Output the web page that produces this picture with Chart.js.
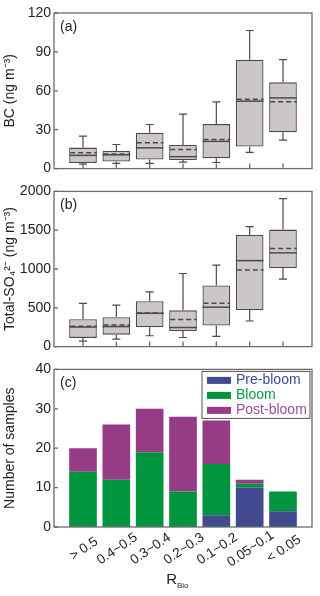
<!DOCTYPE html>
<html>
<head>
<meta charset="utf-8">
<script src="https://cdn.jsdelivr.net/npm/chart.js@4.4.1/dist/chart.umd.min.js"></script>
<style>
  html, body { margin: 0; padding: 0; background: #fff; }
  canvas { position: absolute; left: 0; }
</style>
</head>
<body>
<canvas id="bcChart" width="320" height="180" style="top:0"></canvas>
<canvas id="so4Chart" width="320" height="178" style="top:180px"></canvas>
<canvas id="countChart" width="320" height="238" style="top:358px"></canvas>
<script>
const categories = ['> 0.5', '0.4~0.5', '0.3~0.4', '0.2~0.3', '0.1~0.2', '0.05~0.1', '< 0.05'];

// (a) BC box stats, ng m-3
const bcMin = [3.5, 4, 4, 5, 4.7, 12.5, 22];
const bcQ1 = [4.3, 5.5, 7, 6.6, 8, 17, 28];
const bcMedian = [10.2, 10.6, 16, 9.2, 21, 52, 54.5];
const bcMean = [12.2, 11.3, 20, 14.7, 22.5, 53.5, 51.5];
const bcQ3 = [16.2, 13.6, 27.6, 18.2, 34.3, 84, 66.5];
const bcMax = [25, 18.6, 34, 42, 51.5, 106.5, 84];
const bcTicks = [0, 30, 60, 90, 120];

// (b) total SO4 box stats, ng m-3
const so4Min = [71, 96, 140, 117, 133, 330, 870];
const so4Q1 = [112, 154, 250, 200, 271, 471, 1012];
const so4Median = [252, 258, 429, 246, 508, 1108, 1208];
const so4Mean = [262, 279, 433, 348, 558, 988, 1265];
const so4Q3 = [354, 379, 585, 467, 788, 1438, 1508];
const so4Max = [556, 534, 706, 942, 1050, 1545, 1908];
const so4Ticks = [0, 500, 1000, 1500, 2000];

// (c) sample counts
const preBloom = [0, 0, 0, 0, 3, 10, 4];
const bloom = [14, 12, 19, 9, 13, 1, 5];
const postBloom = [6, 14, 11, 19, 11, 1, 0];
const countTicks = [0, 10, 20, 30, 40];

const FONT = '"Liberation Sans", Arial, sans-serif';
const TEXT = '#222';

// frame, inward ticks, panel letter
const framePlugin = {
  id: 'frame',
  afterDraw(chart, args, opts) {
    const { ctx, chartArea: a, scales } = chart;
    ctx.save();
    ctx.strokeStyle = '#6b6b6b';
    ctx.lineWidth = 1.3;
    ctx.strokeRect(a.left, a.top, a.right - a.left, a.bottom - a.top);
    ctx.beginPath();
    scales.y.ticks.forEach(t => {
      const py = scales.y.getPixelForValue(t.value);
      ctx.moveTo(a.left, py);
      ctx.lineTo(a.left + 4, py);
    });
    if (opts.xTicks) {
      categories.forEach((c, i) => {
        const px = scales.x.getPixelForValue(i);
        ctx.moveTo(px, a.bottom);
        ctx.lineTo(px, a.bottom - 5);
      });
    }
    ctx.stroke();
    ctx.fillStyle = TEXT;
    ctx.font = '14px ' + FONT;
    ctx.textBaseline = 'middle';
    ctx.fillText(opts.label, a.left + 6, a.top + 14);
    ctx.restore();
  }
};

// whiskers, median and mean on top of the floating bars
const boxPlugin = {
  id: 'boxes',
  afterDatasetsDraw(chart, args, opts) {
    if (!opts.min) return;
    const { ctx } = chart;
    const y = chart.scales.y;
    const meta = chart.getDatasetMeta(0);
    ctx.save();
    ctx.strokeStyle = '#4a4a4a';
    ctx.lineWidth = 1.2;
    meta.data.forEach((bar, i) => {
      const x = bar.x, half = bar.width / 2;
      const yq1 = y.getPixelForValue(opts.q1[i]);
      const yq3 = y.getPixelForValue(opts.q3[i]);
      const ylo = y.getPixelForValue(opts.min[i]);
      const yhi = y.getPixelForValue(opts.max[i]);
      ctx.setLineDash([]);
      ctx.beginPath();
      ctx.moveTo(x, yq3); ctx.lineTo(x, yhi);
      ctx.moveTo(x - 4, yhi); ctx.lineTo(x + 4, yhi);
      ctx.moveTo(x, yq1); ctx.lineTo(x, ylo);
      ctx.moveTo(x - 4, ylo); ctx.lineTo(x + 4, ylo);
      ctx.stroke();
      const ym = y.getPixelForValue(opts.median[i]);
      ctx.lineWidth = 1.5;
      ctx.beginPath();
      ctx.moveTo(x - half, ym); ctx.lineTo(x + half, ym);
      ctx.stroke();
      const ymean = y.getPixelForValue(opts.mean[i]);
      ctx.setLineDash([5, 3]);
      ctx.beginPath();
      ctx.moveTo(x - half + 1, ymean); ctx.lineTo(x + half, ymean);
      ctx.stroke();
      ctx.lineWidth = 1.2;
    });
    ctx.restore();
  }
};

// rotated category labels, R_Bio title and boxed legend for panel (c)
const countExtras = {
  id: 'countExtras',
  afterDraw(chart) {
    const { ctx, chartArea: a, scales } = chart;
    ctx.save();
    ctx.fillStyle = TEXT;
    ctx.font = '13.5px ' + FONT;
    ctx.textAlign = 'center';
    ctx.textBaseline = 'middle';
    categories.forEach((c, i) => {
      const px = scales.x.getPixelForValue(i);
      ctx.save();
      ctx.translate(px + 1, a.bottom + 22);
      ctx.rotate(-34 * Math.PI / 180);
      ctx.fillText(c, 0, 0);
      ctx.restore();
    });
    const cx = (a.left + a.right) / 2;
    ctx.font = '15px ' + FONT;
    ctx.textAlign = 'right';
    ctx.fillText('R', cx - 6, a.bottom + 53);
    ctx.font = '8px ' + FONT;
    ctx.textAlign = 'left';
    ctx.fillText('Bio', cx - 6, a.bottom + 59);

    const lx = a.right - 110, ly = a.top + 2;
    ctx.strokeStyle = '#555';
    ctx.lineWidth = 1;
    ctx.strokeRect(lx, ly, 108, 47);
    ctx.font = '14px ' + FONT;
    ctx.textAlign = 'left';
    chart.data.datasets.forEach((ds, k) => {
      const ry = ly + 9 + k * 15;
      ctx.fillStyle = ds.backgroundColor;
      ctx.fillRect(lx + 5, ry - 3.5, 24, 7);
      ctx.fillStyle = ds.textColor;
      ctx.fillText(ds.label, lx + 34, ry);
    });
    ctx.restore();
  }
};

function yAxis(min, max, ticks, title) {
  return {
    min: min,
    max: max,
    afterBuildTicks: s => { s.ticks = ticks.map(v => ({ value: v })); },
    afterFit: s => { s.width = 54; },
    grid: { display: false, drawTicks: false },
    border: { display: false },
    ticks: { color: TEXT, font: { family: FONT, size: 14 }, padding: 3, callback: v => String(v) },
    title: { display: true, text: title, color: TEXT, font: { family: FONT, size: 14 }, padding: { top: 2, bottom: 0 } }
  };
}

const xAxis = { type: 'linear', display: false, min: -0.87, max: 6.87, offset: false };

function boxChart(id, q1, q3, stats, ticks, max, title, label, padTop, padBottom) {
  new Chart(document.getElementById(id), {
    type: 'bar',
    data: {
      datasets: [{
        data: categories.map((c, i) => ({ x: i, y: [q1[i], q3[i]] })),
        backgroundColor: '#ccc6c6',
        borderColor: '#4a4a4a',
        borderWidth: 1.3,
        borderSkipped: false,
        categoryPercentage: 0.83,
        barPercentage: 1
      }]
    },
    options: {
      responsive: false,
      animation: false,
      layout: { padding: { top: padTop, bottom: padBottom, right: 8, left: 0 } },
      plugins: {
        legend: { display: false },
        tooltip: { enabled: false },
        frame: { label: label, xTicks: true },
        boxes: Object.assign({ q1: q1, q3: q3 }, stats)
      },
      scales: { x: xAxis, y: yAxis(0, max, ticks, title) }
    },
    plugins: [boxPlugin, framePlugin]
  });
}

boxChart('bcChart', bcQ1, bcQ3, { min: bcMin, max: bcMax, median: bcMedian, mean: bcMean },
  bcTicks, 120, 'BC (ng m\u207B\u00B3)', '(a)', 13, 7);
boxChart('so4Chart', so4Q1, so4Q3, { min: so4Min, max: so4Max, median: so4Median, mean: so4Mean },
  so4Ticks, 2000, 'Total-SO\u2084\u00B2\u207B (ng m\u207B\u00B3)', '(b)', 10, 8);

const series = [
  { label: 'Pre-bloom', values: preBloom, color: '#414a8e', text: '#3d4a94' },
  { label: 'Bloom', values: bloom, color: '#00943f', text: '#00a040' },
  { label: 'Post-bloom', values: postBloom, color: '#963b85', text: '#a04c98' }
];

new Chart(document.getElementById('countChart'), {
  type: 'bar',
  data: {
    datasets: series.map(s => ({
      label: s.label,
      data: s.values.map((v, i) => ({ x: i, y: v })),
      backgroundColor: s.color,
      textColor: s.text,
      borderWidth: 0,
      categoryPercentage: 0.83,
      barPercentage: 1
    }))
  },
  options: {
    responsive: false,
    animation: false,
    layout: { padding: { top: 8, bottom: 69, right: 8, left: 0 } },
    plugins: {
      legend: { display: false },
      tooltip: { enabled: false },
      frame: { label: '(c)', xTicks: false }
    },
    scales: {
      x: Object.assign({ stacked: true }, xAxis),
      y: Object.assign({ stacked: true }, yAxis(0, 40, countTicks, 'Number of samples'))
    }
  },
  plugins: [framePlugin, countExtras]
});
</script>
</body>
</html>
